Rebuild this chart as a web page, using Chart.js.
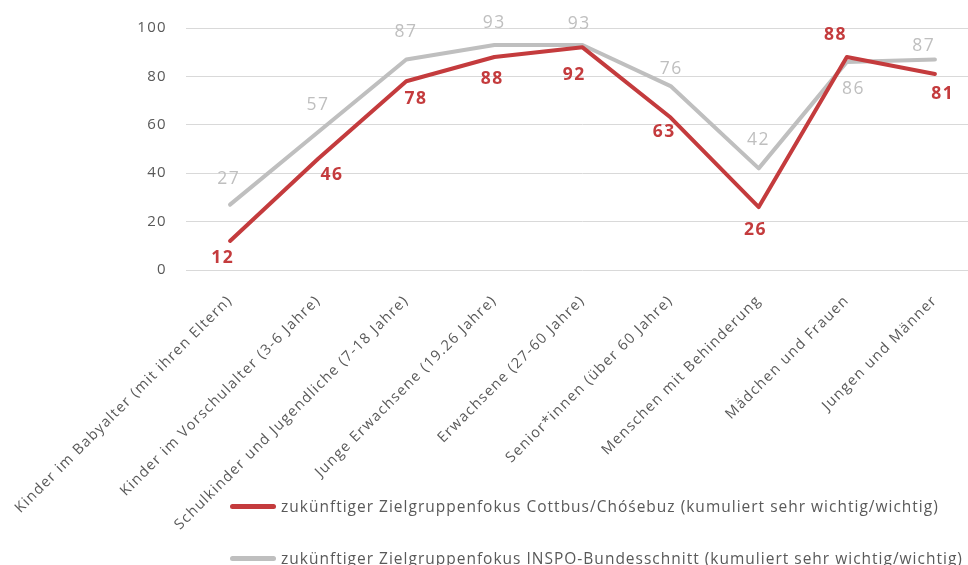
<!DOCTYPE html>
<html>
<head>
<meta charset="utf-8">
<script src="https://cdn.jsdelivr.net/npm/chart.js@4.4.1/dist/chart.umd.min.js"></script>
<style>
  html, body { margin: 0; padding: 0; background: #fff; overflow: hidden; width: 968px; height: 565px; }
  #wrap { position: relative; width: 979px; height: 565px; }
  canvas { position: absolute; left: 0; top: 0; }
  .leg { position: absolute; left: 230px; font-family: "Open Sans", sans-serif; font-size: 15.5px; letter-spacing: 1px; color: #595959; white-space: nowrap; display: flex; align-items: center; height: 20px; }
  .leg span.sw { display: inline-block; width: 46px; height: 5px; border-radius: 3px; margin-right: 5px; }
</style>
</head>
<body>
<div id="wrap">
  <canvas id="c" width="979" height="565"></canvas>
  <div class="leg" id="leg1" style="top:496px"></div>
  <div class="leg" id="leg2" style="top:548px"></div>
</div>
<script>
const categories = [
  "Kinder im Babyalter (mit ihren Eltern)",
  "Kinder im Vorschulalter (3-6 Jahre)",
  "Schulkinder und Jugendliche (7-18 Jahre)",
  "Junge Erwachsene (19.26 Jahre)",
  "Erwachsene (27-60 Jahre)",
  "Senior*innen (über 60 Jahre)",
  "Menschen mit Behinderung",
  "Mädchen und Frauen",
  "Jungen und Männer"
];
const cottbusValues = [12, 46, 78, 88, 92, 63, 26, 88, 81];
const inspoValues = [27, 57, 87, 93, 93, 76, 42, 86, 87];
const seriesNames = [
  "zukünftiger Zielgruppenfokus Cottbus/Chóśebuz (kumuliert sehr wichtig/wichtig)",
  "zukünftiger Zielgruppenfokus INSPO-Bundesschnitt (kumuliert sehr wichtig/wichtig)"
];
const yTicks = [0, 20, 40, 60, 80, 100];

const RED = "#C43B3D";
const GRAY = "#BFBFBF";
const FONT = "'Open Sans', sans-serif";

// label offsets (style, relative to each point)
const redLabelOffsets = [[-8,17],[13,16],[9,18],[-3,22],[-9,28],[-7,14],[-4,23],[-12,-22],[7,20]];
const grayLabelOffsets = [[-2,-26],[-1,-27],[-1,-27],[-1,-22],[-4,-21],[0,-17],[-1,-28],[6,27],[-12,-13]];

const spacing = {
  id: 'spacing',
  beforeDraw(chart) { chart.ctx.letterSpacing = '1.3px'; },
  beforeDatasetsDraw(chart) { chart.ctx.letterSpacing = '0px'; }
};

const valueLabels = {
  id: 'valueLabels',
  afterDatasetsDraw(chart) {
    const ctx = chart.ctx;
    chart.data.datasets.forEach((ds, di) => {
      const meta = chart.getDatasetMeta(di);
      ctx.save();
      ctx.letterSpacing = '1.5px';
      ctx.font = ds.labelFont;
      ctx.fillStyle = ds.labelColor;
      ctx.textAlign = 'center';
      ctx.textBaseline = 'middle';
      meta.data.forEach((pt, i) => {
        const off = ds.labelOffsets[i];
        ctx.fillText(String(ds.data[i]), pt.x + off[0] + 0.75, pt.y + off[1]);
      });
      ctx.restore();
    });
  }
};

const chart = new Chart(document.getElementById('c'), {
  type: 'line',
  data: {
    labels: categories,
    datasets: [
      {
        label: seriesNames[0],
        data: cottbusValues,
        borderColor: RED,
        backgroundColor: RED,
        borderWidth: 4,
        pointRadius: 0,
        tension: 0,
        borderCapStyle: 'round',
        borderJoinStyle: 'round',
        labelColor: RED,
        labelFont: "bold 17.5px " + FONT,
        labelOffsets: redLabelOffsets,
        order: 1
      },
      {
        label: seriesNames[1],
        data: inspoValues,
        borderColor: GRAY,
        backgroundColor: GRAY,
        borderWidth: 4,
        pointRadius: 0,
        tension: 0,
        borderCapStyle: 'round',
        borderJoinStyle: 'round',
        labelColor: GRAY,
        labelFont: "17.5px " + FONT,
        labelOffsets: grayLabelOffsets,
        order: 2
      }
    ]
  },
  options: {
    responsive: false,
    animation: false,
    layout: { padding: { top: 26, right: 0, left: 0, bottom: 0 } },
    plugins: {
      legend: { display: false },
      tooltip: { enabled: false }
    },
    scales: {
      x: {
        offset: true,
        grid: { display: false, drawTicks: false },
        border: { display: false },
        ticks: {
          autoSkip: false,
          minRotation: 45,
          maxRotation: 45,
          padding: 22,
          color: "#595959",
          font: { family: FONT, size: 14.5 }
        },
        afterFit(scale) { scale.height = 295; }
      },
      y: {
        min: 0,
        max: 100,
        afterBuildTicks(scale) { scale.ticks = yTicks.map(v => ({ value: v })); },
        grid: { color: "#D9D9D9", lineWidth: 1, drawTicks: false },
        border: { display: false },
        ticks: {
          padding: 19,
          color: "#595959",
          font: { family: FONT, size: 15 }
        },
        afterFit(scale) { scale.width = 186; }
      }
    }
  },
  plugins: [spacing, valueLabels]
});

const legColors = [RED, GRAY];
["leg1", "leg2"].forEach((id, i) => {
  const el = document.getElementById(id);
  const sw = document.createElement('span');
  sw.className = 'sw';
  sw.style.background = legColors[i];
  el.appendChild(sw);
  el.appendChild(document.createTextNode(chart.data.datasets[i].label));
});
</script>
</body>
</html>
